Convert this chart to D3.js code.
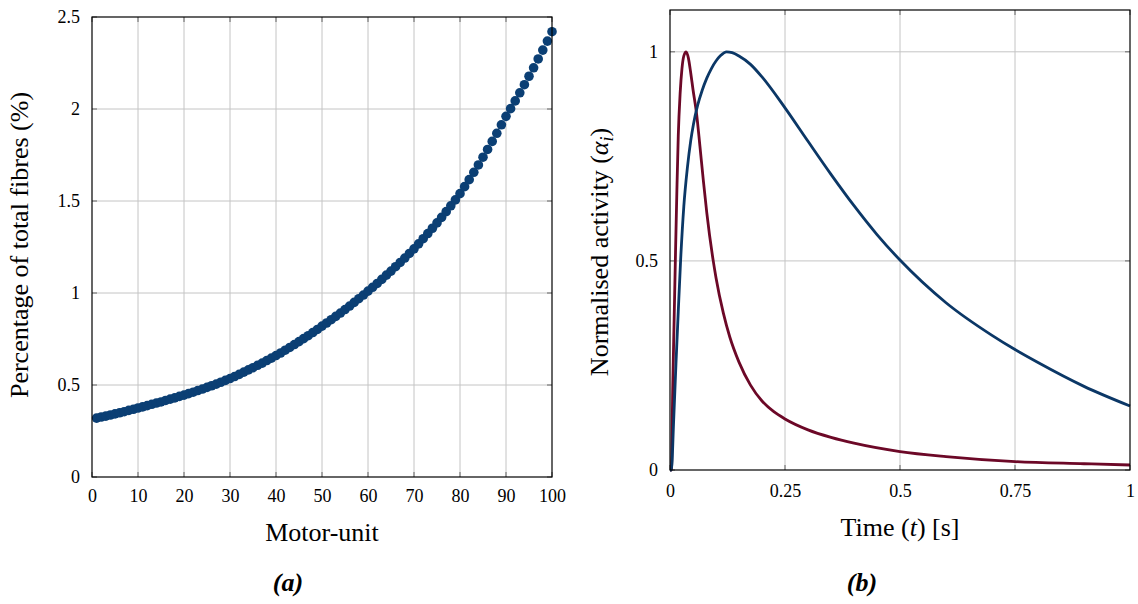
<!DOCTYPE html>
<html>
<head>
<meta charset="utf-8">
<script src="https://cdn.jsdelivr.net/npm/d3@7"></script>
<style>
    body { margin: 0; background: #fff; }
    text { font-family: 'Liberation Serif', 'Times New Roman', serif; fill: #000; }
</style>
</head>
<body>
<svg id="chart" width="1138" height="604"></svg>
<script>
// (a) share of fibres per motor unit
const motorUnits = d3.range(1, 101);
const fibrePct = [
    0.320, 0.326, 0.331, 0.337, 0.343, 0.349, 0.355, 0.362, 0.368, 0.375,
    0.381, 0.388, 0.395, 0.402, 0.408, 0.416, 0.423, 0.430, 0.438, 0.445,
    0.453, 0.461, 0.470, 0.478, 0.487, 0.496, 0.505, 0.515, 0.525, 0.535,
    0.546, 0.558, 0.570, 0.582, 0.594, 0.607, 0.619, 0.633, 0.646, 0.660,
    0.674, 0.689, 0.704, 0.720, 0.736, 0.752, 0.768, 0.785, 0.802, 0.820,
    0.837, 0.855, 0.873, 0.891, 0.910, 0.929, 0.949, 0.969, 0.989, 1.010,
    1.031, 1.052, 1.074, 1.097, 1.119, 1.143, 1.166, 1.190, 1.215, 1.240,
    1.267, 1.295, 1.323, 1.352, 1.381, 1.411, 1.442, 1.474, 1.506, 1.540,
    1.578, 1.616, 1.656, 1.696, 1.738, 1.780, 1.824, 1.868, 1.914, 1.960,
    2.002, 2.044, 2.088, 2.132, 2.178, 2.224, 2.272, 2.320, 2.369, 2.420
];
const unitTicks = [0, 10, 20, 30, 40, 50, 60, 70, 80, 90, 100];
const pctTicks = [0, 0.5, 1, 1.5, 2, 2.5];

// (b) normalised activity over time
const slowTime = [0, 0.003, 0.008, 0.013, 0.018, 0.023, 0.03, 0.038, 0.045, 0.051, 0.06, 0.07, 0.08, 0.09, 0.1, 0.11, 0.123,
    0.135, 0.15, 0.175, 0.2, 0.25, 0.3, 0.35, 0.4, 0.45, 0.5, 0.6, 0.7, 0.75, 0.8, 0.9, 1.0];
const slowAct = [0, 0, 0.12, 0.255, 0.38, 0.5, 0.63, 0.725, 0.787, 0.827, 0.872, 0.908, 0.937, 0.96, 0.978, 0.991, 1.0,
    0.998, 0.99, 0.97, 0.94, 0.866, 0.786, 0.707, 0.632, 0.563, 0.502, 0.4, 0.322, 0.288, 0.257, 0.2, 0.153];
const fastTime = [0, 0.003, 0.006, 0.009, 0.012, 0.015, 0.018, 0.022, 0.026, 0.03, 0.035, 0.04, 0.045, 0.05, 0.058, 0.065,
    0.0725, 0.08, 0.094, 0.1, 0.116, 0.13, 0.15, 0.175, 0.2, 0.225, 0.25, 0.3, 0.35, 0.4, 0.5, 0.6, 0.75, 0.9, 1.0];
const fastAct = [0, 0, 0.2, 0.36, 0.52, 0.67, 0.8, 0.9, 0.96, 0.99, 1.0, 0.985, 0.95, 0.91, 0.85, 0.775,
    0.692, 0.615, 0.5, 0.46, 0.375, 0.318, 0.258, 0.203, 0.165, 0.14, 0.122, 0.096, 0.078, 0.064, 0.044, 0.032, 0.02, 0.015, 0.012];
const timeTicks = [0, 0.25, 0.5, 0.75, 1];
const actTicks = [0, 0.5, 1];

const svg = d3.select('#chart');
svg.append('rect').attr('width', 1138).attr('height', 604).attr('fill', '#fff');

const serif = "'Liberation Serif', 'Times New Roman', serif";
const gridColor = '#c4c4c4';
const tickLen = 5;

// draws grid, inside ticks and tick labels of one panel
function drawFrame(g, x, y, xTicks, yTicks, xPad) {
    const [x0, x1] = x.range();
    const [y0, y1] = y.range();

    g.append('g').selectAll('line').data(xTicks.filter((d) => x(d) > x0 && x(d) < x1)).join('line')
        .attr('x1', (d) => x(d)).attr('x2', (d) => x(d)).attr('y1', y0).attr('y2', y1)
        .attr('stroke', gridColor).attr('stroke-width', 1);
    g.append('g').selectAll('line').data(yTicks.filter((d) => y(d) < y0 && y(d) > y1)).join('line')
        .attr('y1', (d) => y(d)).attr('y2', (d) => y(d)).attr('x1', x0).attr('x2', x1)
        .attr('stroke', gridColor).attr('stroke-width', 1);

    // small tick marks on the inside of all four sides
    const tk = g.append('g').attr('stroke', '#666').attr('stroke-width', 1);
    xTicks.forEach((d) => {
        tk.append('line').attr('x1', x(d)).attr('x2', x(d)).attr('y1', y0).attr('y2', y0 - tickLen);
        tk.append('line').attr('x1', x(d)).attr('x2', x(d)).attr('y1', y1).attr('y2', y1 + tickLen);
    });
    yTicks.forEach((d) => {
        tk.append('line').attr('y1', y(d)).attr('y2', y(d)).attr('x1', x0).attr('x2', x0 + tickLen);
        tk.append('line').attr('y1', y(d)).attr('y2', y(d)).attr('x1', x1).attr('x2', x1 - tickLen);
    });

    const xAxis = g.append('g').attr('transform', `translate(0,${y0})`)
        .call(d3.axisBottom(x).tickValues(xTicks).tickSize(0).tickPadding(xPad).tickFormat((d) => String(d)));
    const yAxis = g.append('g').attr('transform', `translate(${x0},0)`)
        .call(d3.axisLeft(y).tickValues(yTicks).tickSize(0).tickPadding(12).tickFormat((d) => String(d)));
    [xAxis, yAxis].forEach((a) => {
        a.attr('font-family', null);
        a.select('.domain').remove();
        a.selectAll('text').style('font-size', '18px').style('font-family', serif).style('fill', '#000');
    });
}

function drawBorder(g, x, y) {
    const [x0, x1] = x.range();
    const [y0, y1] = y.range();
    g.append('rect').attr('x', x0).attr('y', y1).attr('width', x1 - x0).attr('height', y0 - y1)
        .attr('fill', 'none').attr('stroke', '#000').attr('stroke-width', 1.2);
}

// ---------- panel (a) ----------
const xA = d3.scaleLinear().domain([0, 100]).range([92, 552]);
const yA = d3.scaleLinear().domain([0, 2.5]).range([477, 17]);
const gA = svg.append('g');
drawFrame(gA, xA, yA, unitTicks, pctTicks, 12);

gA.append('g').selectAll('circle').data(motorUnits).join('circle')
    .attr('cx', (d) => xA(d))
    .attr('cy', (d, i) => yA(fibrePct[i]))
    .attr('r', 4.8)
    .attr('fill', '#0b3f74');
drawBorder(gA, xA, yA);

gA.append('text').attr('x', 322).attr('y', 541).attr('text-anchor', 'middle')
    .attr('font-size', '26px').text('Motor-unit');
gA.append('text').attr('transform', 'translate(28,245) rotate(-90)').attr('text-anchor', 'middle')
    .attr('font-size', '26px').text('Percentage of total fibres (%)');
gA.append('text').attr('x', 288).attr('y', 591).attr('text-anchor', 'middle')
    .attr('font-size', '26px').attr('font-weight', 'bold').attr('font-style', 'italic').text('(a)');

// ---------- panel (b) ----------
const xB = d3.scaleLinear().domain([0, 1]).range([670, 1130]);
const yB = d3.scaleLinear().domain([0, 1.1]).range([470, 10]);
const gB = svg.append('g');
drawFrame(gB, xB, yB, timeTicks, actTicks, 14);

const line = d3.line().x((d) => xB(d[0])).y((d) => yB(d[1])).curve(d3.curveMonotoneX);
gB.append('path').datum(fastTime.map((t, i) => [t, fastAct[i]]))
    .attr('d', line).attr('fill', 'none').attr('stroke', '#6c0827').attr('stroke-width', 2.8);
gB.append('path').datum(slowTime.map((t, i) => [t, slowAct[i]]))
    .attr('d', line).attr('fill', 'none').attr('stroke', '#0b3766').attr('stroke-width', 2.8);
drawBorder(gB, xB, yB);

const tLabel = gB.append('text').attr('x', 900).attr('y', 536).attr('text-anchor', 'middle').attr('font-size', '26px');
tLabel.append('tspan').text('Time (');
tLabel.append('tspan').attr('font-style', 'italic').text('t');
tLabel.append('tspan').text(') [s]');

const aLabel = gB.append('text').attr('transform', 'translate(608,252) rotate(-90)').attr('text-anchor', 'middle').attr('font-size', '26px');
aLabel.append('tspan').text('Normalised activity (');
aLabel.append('tspan').attr('font-style', 'italic').text('α');
aLabel.append('tspan').attr('font-style', 'italic').attr('font-size', '18px').attr('dy', 5).text('i');
aLabel.append('tspan').attr('dy', -5).text(')');

gB.append('text').attr('x', 862).attr('y', 591).attr('text-anchor', 'middle')
    .attr('font-size', '26px').attr('font-weight', 'bold').attr('font-style', 'italic').text('(b)');
</script>
</body>
</html>
